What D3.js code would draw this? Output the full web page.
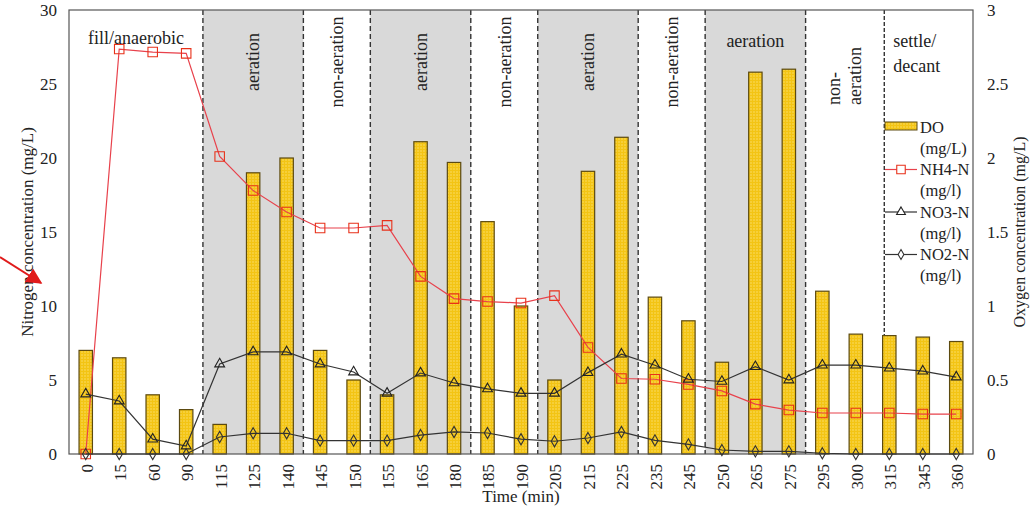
<!DOCTYPE html>
<html>
<head>
<meta charset="utf-8">
<script src="https://cdn.jsdelivr.net/npm/d3@7/dist/d3.min.js"></script>
<style>
  body { margin: 0; background: #fff; }
</style>
</head>
<body>
<div id="chart"></div>
<script>
// sampling times (min)
var times = ["0","15","60","90","115","125","140","145","150","155","165","180","185","190",
             "205","215","225","235","245","250","265","275","295","300","315","345","360"];

// dissolved oxygen (mg/L, right axis)
var doVals  = [0.70,0.65,0.40,0.30,0.20,1.90,2.00,0.70,0.50,0.40,2.11,1.97,1.57,1.00,
               0.50,1.91,2.14,1.06,0.90,0.62,2.58,2.60,1.10,0.81,0.80,0.79,0.76];
// nitrogen species (mg/L, left axis)
var nh4Vals = [0,27.36,27.16,27.07,20.1,17.8,16.35,15.27,15.27,15.45,12.0,10.5,10.3,10.2,
               10.7,7.2,5.1,5.05,4.7,4.26,3.37,2.97,2.77,2.77,2.77,2.7,2.7];
var no3Vals = [4.05,3.58,1.0,0.54,6.08,6.9,6.9,6.08,5.54,4.1,5.47,4.8,4.4,4.1,
               4.1,5.5,6.75,6.0,5.05,4.9,5.9,5.0,6.0,6.0,5.8,5.6,5.2];
var no2Vals = [0,0,0,0,1.15,1.4,1.4,0.9,0.9,0.9,1.28,1.49,1.42,1.0,
               0.86,1.08,1.49,0.92,0.65,0.27,0.18,0.18,0.05,0,0,0,0];

// operating phases: first and last sampling time in each
var phaseNames  = ["fill/anaerobic","aeration","non-aeration","aeration","non-aeration",
                   "aeration","non-aeration","aeration","non-aeration","settle/decant"];
var phaseFirst  = ["0","115","145","155","185","205","235","250","295","315"];
var phaseLast   = ["90","140","150","180","190","225","245","275","315","360"];
var phaseAerated = [false,true,false,true,false,true,false,true,false,false];

var leftTicks  = [0,5,10,15,20,25,30];
var rightTicks = [0,0.5,1,1.5,2,2.5,3];

var width = 1030, height = 511;
var margin = {top: 10, right: 57, bottom: 57, left: 69};
var serif = "'Liberation Serif', 'Times New Roman', Times, serif";

var svg = d3.select("#chart").append("svg")
    .attr("width", width)
    .attr("height", height)
    .attr("font-family", serif)
    .attr("fill", "#222");

var defs = svg.append("defs");
var pat = defs.append("pattern")
    .attr("id", "dots")
    .attr("width", 3).attr("height", 3)
    .attr("patternUnits", "userSpaceOnUse");
pat.append("rect").attr("width", 3).attr("height", 3).attr("fill", "#f3c414");
pat.append("circle").attr("cx", 1).attr("cy", 1).attr("r", 0.7).attr("fill", "#fde37a");

defs.append("marker")
    .attr("id", "arrowhead")
    .attr("viewBox", "0 0 10 10")
    .attr("refX", 9).attr("refY", 5)
    .attr("markerWidth", 8).attr("markerHeight", 8)
    .attr("orient", "auto")
  .append("path")
    .attr("d", "M0,0L10,5L0,10z")
    .attr("fill", "#e01b1b");

var x = d3.scaleBand()
    .domain(times)
    .range([margin.left, width - margin.right]);

var yL = d3.scaleLinear().domain([0, 30]).range([height - margin.bottom, margin.top]);
var yR = d3.scaleLinear().domain([0, 3]).range([height - margin.bottom, margin.top]);

var cx = function(t) { return x(t) + x.bandwidth() / 2; };

// phase bounds (settle/decant line sits a bit into the 315 band)
function phaseStart(i) {
    if (phaseNames[i] == "settle/decant") return x(phaseFirst[i]) + x.bandwidth() * 0.35;
    return x(phaseFirst[i]);
}
function phaseEnd(i) {
    if (i + 1 < phaseNames.length) return phaseStart(i + 1);
    return x(phaseLast[i]) + x.bandwidth();
}

// grey background for aeration phases
phaseNames.forEach(function(name, i) {
    if (!phaseAerated[i]) return;
    svg.append("rect")
        .attr("x", phaseStart(i))
        .attr("y", margin.top)
        .attr("width", phaseEnd(i) - phaseStart(i))
        .attr("height", height - margin.bottom - margin.top)
        .attr("fill", "#d9d9d9");
});

// dashed separators
phaseNames.forEach(function(name, i) {
    if (i == 0) return;
    svg.append("line")
        .attr("x1", phaseStart(i)).attr("x2", phaseStart(i))
        .attr("y1", margin.top).attr("y2", height - margin.bottom)
        .attr("stroke", "#333")
        .attr("stroke-width", 1.4)
        .attr("stroke-dasharray", name == "settle/decant" ? "4,2" : "5,3");
});

// DO bars
var barW = x.bandwidth() * 0.4;
svg.selectAll(".bar")
    .data(times)
    .enter().append("rect")
    .attr("class", "bar")
    .attr("x", function(d) { return cx(d) - barW / 2; })
    .attr("y", function(d, i) { return yR(doVals[i]); })
    .attr("width", barW)
    .attr("height", function(d, i) { return yR(0) - yR(doVals[i]); })
    .attr("fill", "url(#dots)")
    .attr("stroke", "#5c4a10")
    .attr("stroke-width", 1.2);

// frame
svg.append("rect")
    .attr("x", margin.left).attr("y", margin.top)
    .attr("width", width - margin.left - margin.right)
    .attr("height", height - margin.top - margin.bottom)
    .attr("fill", "none")
    .attr("stroke", "#555")
    .attr("stroke-width", 1.2);

// series lines and markers
var series = [
    {name: "NH4-N", vals: nh4Vals, color: "#e8414b", mark: "#e8311a", symbol: d3.symbolSquare, size: 90},
    {name: "NO3-N", vals: no3Vals, color: "#333", mark: "#222", symbol: d3.symbolTriangle, size: 42},
    {name: "NO2-N", vals: no2Vals, color: "#333", mark: "#333", symbol: d3.symbolDiamond, size: 36}
];

var line = d3.line()
    .x(function(d) { return cx(d.t); })
    .y(function(d) { return yL(d.v); });

series.forEach(function(s) {
    var pts = times.map(function(t, i) { return {t: t, v: s.vals[i]}; });
    svg.append("path")
        .datum(pts)
        .attr("d", line)
        .attr("fill", "none")
        .attr("stroke", s.color)
        .attr("stroke-width", 1.2);
    svg.selectAll(null)
        .data(pts)
        .enter().append("path")
        .attr("transform", function(d) { return "translate(" + cx(d.t) + "," + yL(d.v) + ")"; })
        .attr("d", d3.symbol().type(s.symbol).size(s.size))
        .attr("fill", "none")
        .attr("stroke", s.mark)
        .attr("stroke-width", 1.1);
});

// axes
svg.selectAll(".lt")
    .data(leftTicks)
    .enter().append("text")
    .attr("x", margin.left - 12)
    .attr("y", function(d) { return yL(d); })
    .attr("dy", "0.35em")
    .attr("text-anchor", "end")
    .style("font-size", "17px")
    .text(function(d) { return d; });

svg.selectAll(".rt")
    .data(rightTicks)
    .enter().append("text")
    .attr("x", width - margin.right + 14)
    .attr("y", function(d) { return yR(d); })
    .attr("dy", "0.35em")
    .style("font-size", "17px")
    .text(function(d) { return d; });

svg.selectAll(".xt")
    .data(times)
    .enter().append("text")
    .attr("transform", function(d) {
        return "translate(" + (cx(d) + 1) + "," + (height - margin.bottom + 10) + ") rotate(-90)";
    })
    .attr("dy", "0.35em")
    .attr("text-anchor", "end")
    .style("font-size", "17px")
    .text(function(d) { return d; });

svg.append("text")
    .attr("x", (margin.left + width - margin.right) / 2)
    .attr("y", height - 9)
    .attr("text-anchor", "middle")
    .style("font-size", "17px")
    .text("Time (min)");

svg.append("text")
    .attr("transform", "translate(33," + (margin.top + height - margin.bottom) / 2 + ") rotate(-90)")
    .attr("text-anchor", "middle")
    .style("font-size", "17px")
    .text("Nitrogen concentration (mg/L)");

svg.append("text")
    .attr("transform", "translate(1025," + (margin.top + height - margin.bottom) / 2 + ") rotate(-90)")
    .attr("text-anchor", "middle")
    .style("font-size", "16px")
    .text("Oxygen concentration (mg/L)");

// phase labels
phaseNames.forEach(function(name, i) {
    var mid = (phaseStart(i) + phaseEnd(i)) / 2;
    if (i == 0) {
        svg.append("text")
            .attr("x", mid).attr("y", 44)
            .attr("text-anchor", "middle")
            .style("font-size", "18px")
            .text(name);
    } else if (name == "settle/decant") {
        var t = svg.append("text").attr("x", phaseStart(i) + 9).attr("y", 47).style("font-size", "18px");
        t.append("tspan").text("settle/");
        t.append("tspan").attr("x", phaseStart(i) + 9).attr("dy", 25).text("decant");
    } else if (i == 7) {
        svg.append("text")
            .attr("x", mid).attr("y", 47)
            .attr("text-anchor", "middle")
            .style("font-size", "18px")
            .text(name);
    } else if (i == 8) {
        var t2 = svg.append("text")
            .attr("transform", "translate(" + (mid - 1) + ",105) rotate(-90)")
            .style("font-size", "18px");
        t2.append("tspan").attr("x", 0).attr("dy", "-0.2em").text("non-");
        t2.append("tspan").attr("x", 0).attr("dy", "1.15em").text("aeration");
    } else {
        svg.append("text")
            .attr("transform", "translate(" + mid + ",62) rotate(-90)")
            .attr("text-anchor", "middle")
            .attr("dy", "0.35em")
            .style("font-size", "18px")
            .text(name);
    }
});

// legend
var lx = 885, lw = 32, tx = 920;
var lg = svg.append("g");
lg.append("rect").attr("x", lx).attr("y", 122).attr("width", lw).attr("height", 8)
    .attr("fill", "url(#dots)").attr("stroke", "#5c4a10");
var legendText = [["DO", "(mg/L)"], ["NH4-N", "(mg/l)"], ["NO3-N", "(mg/l)"], ["NO2-N", "(mg/l)"]];
legendText.forEach(function(lbl, i) {
    var yy = 127 + i * 42.5;
    lg.append("text").attr("x", tx).attr("y", yy).attr("dy", "0.35em").style("font-size", "16.5px").text(lbl[0]);
    lg.append("text").attr("x", tx).attr("y", yy + 21).attr("dy", "0.35em").style("font-size", "16.5px").text(lbl[1]);
    if (i == 0) return;
    var s = series[i - 1];
    lg.append("line").attr("x1", lx).attr("x2", lx + lw).attr("y1", yy).attr("y2", yy)
        .attr("stroke", s.color).attr("stroke-width", 1.2);
    lg.append("path")
        .attr("transform", "translate(" + (lx + lw / 2) + "," + yy + ")")
        .attr("d", d3.symbol().type(s.symbol).size(s.size * 0.8))
        .attr("fill", "#fff").attr("stroke", s.mark).attr("stroke-width", 1.1);
});

// red annotation arrow
svg.append("line")
    .attr("x1", 0).attr("y1", 257)
    .attr("x2", 41).attr("y2", 283)
    .attr("stroke", "#e01b1b")
    .attr("stroke-width", 2)
    .attr("marker-end", "url(#arrowhead)");
</script>
</body>
</html>
